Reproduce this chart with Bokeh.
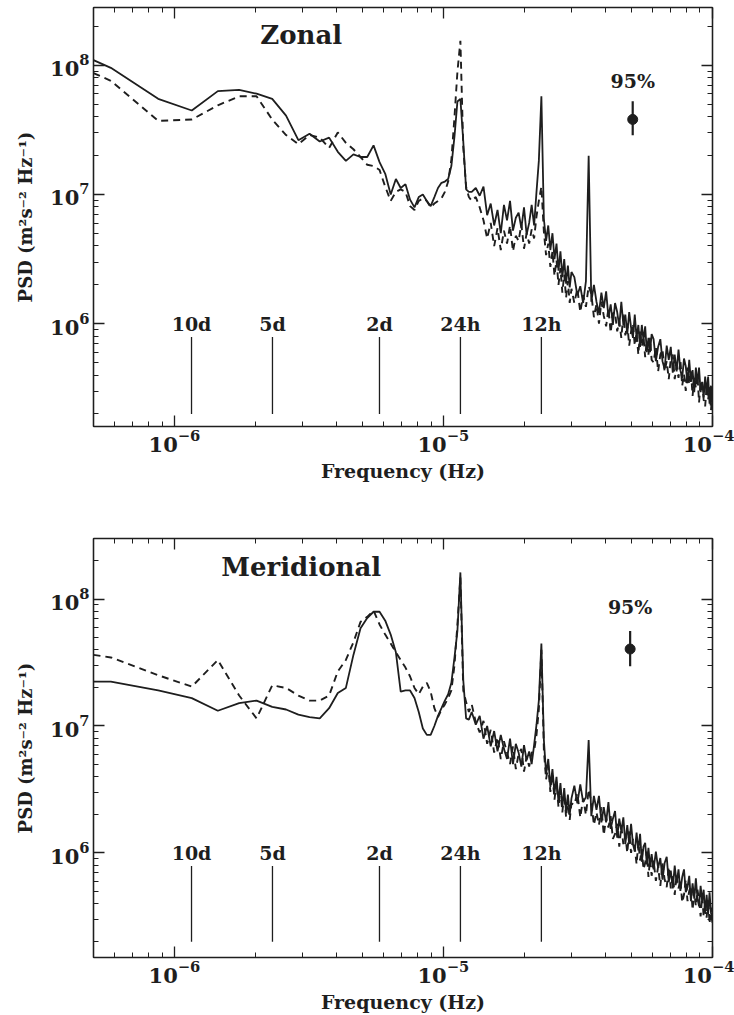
import numpy as np
from bokeh.plotting import figure
from bokeh.models import LogAxis, LogTicker, Range1d, ColumnDataSource, CustomJSTickFormatter
from bokeh.layouts import column
from bokeh.embed import file_html
from bokeh.resources import INLINE
from bokeh.core.properties import value

FONT = "DejaVu Serif"
INK = "#1e1e1e"

# ---------------- data (frequency in micro-Hz, PSD as log10 of m^2 s^-2 Hz^-1) ----------------
freq_uHz = [
    0.50, 0.58, 0.87, 1.16, 1.45, 1.74, 2.02, 2.31, 2.60, 2.89,
    3.18, 3.47, 3.76, 4.05, 4.34, 4.63, 4.92, 5.21, 5.50, 5.79,
    6.08, 6.37, 6.66, 6.94, 7.23, 7.52, 7.81, 8.10, 8.39, 8.68,
    8.97, 9.26, 9.55, 9.84, 10.13, 10.42, 10.71, 11.00, 11.28, 11.57,
    11.86, 12.15, 12.44,
    12.75, 13.20, 13.65, 14.10, 14.55, 15.00, 15.45, 15.90, 16.35, 16.80,
    17.25, 17.70, 18.15, 18.60, 19.05, 19.50, 19.95, 20.40, 20.85, 21.30,
    21.75, 22.20, 22.65, 23.15, 23.65, 24.10, 24.55, 25.00, 25.45, 25.90,
    26.35, 26.80, 27.25, 27.70, 28.15, 28.60, 29.05, 29.50, 29.95,
    30.7, 31.5, 32.3, 33.1, 33.9, 34.7, 35.5, 36.3, 37.1, 37.9,
    38.7, 39.5, 40.3, 41.1, 41.9, 42.7, 43.5, 44.3, 45.1, 45.9,
    46.7, 47.5, 48.3, 49.1, 49.9, 50.7, 51.5, 52.3, 53.1, 53.9,
    54.7, 55.5, 56.3, 57.1, 57.9, 58.7, 59.5,
    60.5, 61.7, 62.9, 64.1, 65.3, 66.5, 67.7, 68.9, 70.1, 71.3,
    72.5, 73.7, 74.9, 76.1, 77.3, 78.5, 79.7, 80.9, 82.1, 83.3,
    84.5, 85.7, 86.9, 88.1, 89.3, 90.5, 91.7, 92.9, 94.1, 95.3,
    96.5, 97.7, 98.9, 100.1,
]

zonal_solid_log10 = [
    8.04, 7.98, 7.74, 7.65, 7.80, 7.81, 7.78, 7.74, 7.61, 7.42,
    7.47, 7.41, 7.44, 7.33, 7.26, 7.31, 7.29, 7.29, 7.38, 7.25,
    7.16, 7.00, 7.12, 7.05, 7.08, 6.96, 6.90, 6.98, 7.00, 6.95,
    6.91, 6.98, 7.05, 7.09, 7.10, 7.12, 7.22, 7.45, 7.72, 7.74,
    7.41, 7.04, 7.02,
    7.02, 7.05, 6.99, 7.06, 6.84, 6.93, 6.76, 6.88, 6.70, 6.92,
    6.80, 6.95, 6.72, 6.82, 6.86, 6.74, 6.90, 6.69, 6.78, 6.92,
    6.76, 7.02, 7.26, 7.76, 6.81, 6.64, 6.76, 6.57, 6.70, 6.50,
    6.62, 6.41, 6.56, 6.36, 6.50, 6.31, 6.45, 6.28, 6.40,
    6.36, 6.22, 6.29, 6.16, 6.33, 7.30, 6.17, 6.30, 6.17, 6.08,
    6.24, 6.12, 6.25, 6.05, 6.15, 5.99, 6.16, 6.09, 5.98, 6.17,
    5.99, 6.07, 5.92, 6.09, 5.97, 5.89, 6.07, 5.89, 5.99, 5.82,
    5.99, 5.87, 5.98, 5.78, 5.89, 5.78, 5.92,
    5.88, 5.71, 5.82, 5.88, 5.71, 5.65, 5.83, 5.72, 5.82, 5.62,
    5.76, 5.63, 5.80, 5.64, 5.58, 5.73, 5.67, 5.54, 5.72, 5.55,
    5.64, 5.47, 5.66, 5.54, 5.66, 5.47, 5.55, 5.43, 5.59, 5.46,
    5.59, 5.38, 5.52, 5.34,
]

zonal_dashed_log10 = [
    7.94, 7.88, 7.57, 7.58, 7.69, 7.76, 7.76, 7.58, 7.46, 7.39,
    7.46, 7.44, 7.36, 7.48, 7.40, 7.35, 7.29, 7.23, 7.22, 7.19,
    7.06, 6.95, 7.02, 7.04, 7.02, 6.91, 6.88, 6.95, 6.97, 6.95,
    6.90, 6.93, 6.95, 6.97, 7.02, 7.10, 7.27, 7.60, 7.95, 8.19,
    7.36, 7.06, 6.98,
    6.95, 6.98, 6.90, 6.80, 6.66, 6.78, 6.60, 6.74, 6.57, 6.72,
    6.62, 6.76, 6.56, 6.68, 6.64, 6.77, 6.58, 6.70, 6.62, 6.73,
    6.66, 6.83, 6.95, 7.06, 6.71, 6.53, 6.62, 6.44, 6.56, 6.37,
    6.49, 6.30, 6.43, 6.24, 6.38, 6.20, 6.33, 6.16, 6.27,
    6.16, 6.27, 6.09, 6.22, 6.13, 6.29, 6.23, 6.05, 6.15, 6.00,
    6.17, 6.06, 5.98, 6.12, 5.93, 6.08, 6.09, 5.94, 6.02, 5.89,
    6.07, 5.91, 6.00, 5.83, 5.94, 6.00, 5.83, 5.93, 5.76, 5.94,
    5.82, 5.90, 5.74, 5.87, 5.76, 5.89, 5.72,
    5.70, 5.82, 5.63, 5.76, 5.80, 5.63, 5.71, 5.57, 5.73, 5.76,
    5.57, 5.67, 5.58, 5.72, 5.52, 5.61, 5.48, 5.66, 5.53, 5.64,
    5.44, 5.59, 5.50, 5.60, 5.39, 5.54, 5.56, 5.41, 5.36, 5.52,
    5.41, 5.51, 5.33, 5.46,
]

meridional_solid_log10 = [
    7.35, 7.35, 7.28, 7.22, 7.12, 7.18, 7.20, 7.15, 7.13, 7.09,
    7.07, 7.06, 7.14, 7.26, 7.30, 7.56, 7.77, 7.85, 7.90, 7.90,
    7.83, 7.72, 7.58, 7.27, 7.28, 7.28, 7.22, 7.11, 6.98, 6.93,
    6.93, 7.00, 7.08, 7.14, 7.20, 7.25, 7.34, 7.54, 7.75, 8.21,
    7.36, 7.06, 7.05,
    7.11, 7.01, 7.08, 6.90, 7.00, 6.84, 6.96, 6.80, 6.93, 6.82,
    6.74, 6.90, 6.70, 6.86, 6.79, 6.68, 6.85, 6.73, 6.80, 6.70,
    6.85, 7.01, 7.20, 7.65, 6.89, 6.62, 6.74, 6.52, 6.66, 6.47,
    6.60, 6.40, 6.55, 6.36, 6.51, 6.32, 6.46, 6.30, 6.43,
    6.53, 6.39, 6.54, 6.40, 6.44, 6.89, 6.29, 6.45, 6.34, 6.45,
    6.24, 6.36, 6.24, 6.40, 6.19, 6.27, 6.33, 6.12, 6.27, 6.17,
    6.28, 6.07, 6.22, 6.07, 6.23, 6.07, 6.01, 6.16, 6.02, 6.15,
    5.93, 6.05, 6.08, 5.91, 6.04, 5.89, 5.99,
    5.87, 6.01, 5.88, 5.96, 5.79, 5.92, 5.97, 5.77, 5.86, 5.72,
    5.90, 5.76, 5.87, 5.70, 5.81, 5.87, 5.69, 5.73, 5.82, 5.62,
    5.76, 5.64, 5.80, 5.64, 5.58, 5.74, 5.62, 5.71, 5.52, 5.67,
    5.52, 5.69, 5.53, 5.45,
]

meridional_dashed_log10 = [
    7.56, 7.54, 7.40, 7.31, 7.52, 7.24, 7.06, 7.32, 7.30, 7.24,
    7.20, 7.20, 7.24, 7.43, 7.52, 7.66, 7.82, 7.86, 7.91, 7.80,
    7.72, 7.65, 7.58, 7.52, 7.46, 7.39, 7.30, 7.25, 7.31, 7.34,
    7.27, 7.14, 7.07, 7.13, 7.17, 7.22, 7.28, 7.48, 7.80, 8.17,
    7.28, 7.19, 7.11,
    7.17, 7.03, 6.95, 7.04, 6.86, 6.97, 6.79, 6.91, 6.74, 6.88,
    6.79, 6.70, 6.84, 6.66, 6.78, 6.82, 6.64, 6.76, 6.68, 6.79,
    6.80, 6.93, 7.13, 7.60, 6.81, 6.58, 6.69, 6.48, 6.62, 6.42,
    6.56, 6.36, 6.50, 6.32, 6.47, 6.28, 6.43, 6.26, 6.39,
    6.38, 6.47, 6.28, 6.43, 6.30, 6.50, 6.40, 6.22, 6.32, 6.22,
    6.36, 6.14, 6.28, 6.20, 6.29, 6.11, 6.15, 6.23, 6.05, 6.21,
    6.07, 6.14, 6.00, 6.17, 6.00, 6.11, 6.05, 5.91, 6.09, 5.94,
    6.03, 5.87, 5.92, 6.01, 5.81, 5.95, 5.82,
    5.94, 5.78, 5.89, 5.74, 5.92, 5.79, 5.73, 5.89, 5.72, 5.82,
    5.67, 5.83, 5.72, 5.79, 5.61, 5.67, 5.79, 5.62, 5.70, 5.74,
    5.55, 5.70, 5.58, 5.71, 5.63, 5.50, 5.66, 5.50, 5.61, 5.49,
    5.64, 5.44, 5.57, 5.47,
]

# period markers
marker_labels = ["10d", "5d", "2d", "24h", "12h"]
marker_hours = [240, 120, 48, 24, 12]

# 95% confidence bars (frequency Hz, PSD centre, lower, upper)
ci_zonal = [5.06e-5, 3.81e7, 2.87e7, 5.26e7]
ci_meridional = [4.95e-5, 4.04e7, 2.96e7, 5.60e7]

freq_hz = np.array(freq_uHz) * 1e-6
marker_freq = [1.0 / (h * 3600.0) for h in marker_hours]


def style_axis(ax, show_labels):
    ax.ticker = LogTicker(num_minor_ticks=10)
    ax.axis_line_color = INK
    ax.axis_line_width = 1.4
    ax.major_tick_in = 11
    ax.major_tick_out = 0
    ax.minor_tick_in = 5
    ax.minor_tick_out = 0
    ax.major_tick_line_color = INK
    ax.major_tick_line_width = 1.3
    ax.minor_tick_line_color = INK
    ax.minor_tick_line_width = 1.0
    if show_labels:
        ax.major_label_text_font = FONT
        ax.major_label_text_font_style = "bold"
        ax.major_label_text_font_size = "21px"
        ax.major_label_text_color = INK
        ax.axis_label_text_font = FONT
        ax.axis_label_text_font_style = "bold"
        ax.axis_label_text_font_size = "19px"
        ax.axis_label_text_color = INK
    else:
        ax.formatter = CustomJSTickFormatter(code="return ''")
        ax.major_label_standoff = 0
        ax.axis_label = None


def make_panel(title, solid_log, dashed_log, yr, h, top, bottom, title_y, ci, ci_text_y):
    p = figure(width=734, height=h, x_axis_type="log", y_axis_type="log",
               x_range=Range1d(5.0e-7, 1.002e-4), y_range=Range1d(*yr),
               output_backend="svg", toolbar_location=None,
               min_border_left=93, min_border_right=22,
               min_border_top=top, min_border_bottom=bottom,
               background_fill_color="white", border_fill_color="white",
               outline_line_color=INK, outline_line_width=1.2)
    p.grid.visible = False
    p.xaxis.axis_label = "Frequency (Hz)"
    p.yaxis.axis_label = "PSD (m²s⁻² Hz⁻¹)"
    style_axis(p.xaxis[0], True)
    style_axis(p.yaxis[0], True)
    p.yaxis.axis_label_text_font_size = "18px"
    p.xaxis.major_label_standoff = 3
    p.xaxis.axis_label_standoff = 5
    p.yaxis.major_label_standoff = 4
    p.yaxis.axis_label_standoff = 11
    top_ax = LogAxis()
    right_ax = LogAxis()
    style_axis(top_ax, False)
    style_axis(right_ax, False)
    p.add_layout(top_ax, "above")
    p.add_layout(right_ax, "right")

    src = ColumnDataSource(dict(f=freq_hz,
                                solid=10.0 ** np.array(solid_log),
                                dashed=10.0 ** np.array(dashed_log)))
    p.line("f", "dashed", source=src, line_color=INK, line_width=1.9, line_dash="7 5")
    p.line("f", "solid", source=src, line_color=INK, line_width=1.8)

    msrc = ColumnDataSource(dict(f=marker_freq, lab=marker_labels,
                                 lo=[2.0e5] * 5, hi=[7.9e5] * 5, ty=[1.0e6] * 5))
    p.segment(x0="f", y0="lo", x1="f", y1="hi", source=msrc, line_color=INK, line_width=1.3)
    p.text(x="f", y="ty", text="lab", source=msrc, text_align="center", text_baseline="middle",
           text_font=value(FONT), text_font_style="bold", text_font_size="19px", text_color=INK)

    p.segment(x0=[ci[0]], y0=[ci[2]], x1=[ci[0]], y1=[ci[3]], line_color=INK, line_width=2.2)
    p.scatter(x=[ci[0]], y=[ci[1]], size=10, marker="circle", fill_color=INK, line_color=INK)
    p.text(x=[ci[0]], y=[ci_text_y], text=["95%"], text_align="center", text_baseline="middle",
           text_font=value(FONT), text_font_style="bold", text_font_size="19px", text_color=INK)

    p.text(x=[2.96e-6], y=[title_y], text=[title], text_align="center", text_baseline="middle",
           text_font=value(FONT), text_font_style="bold", text_font_size="26px", text_color=INK)
    return p


p1 = make_panel("Zonal", zonal_solid_log10, zonal_dashed_log10, (1.6e5, 2.8e8),
                508, 7, 82, 1.71e8, ci_zonal, 7.5e7)
p2 = make_panel("Meridional", meridional_solid_log10, meridional_dashed_log10, (1.5e5, 3.0e8),
                507, 30, 58, 1.79e8, ci_meridional, 8.65e7)

layout = column(p1, p2, spacing=0)
open("out.html", "w").write(file_html(layout, INLINE))
